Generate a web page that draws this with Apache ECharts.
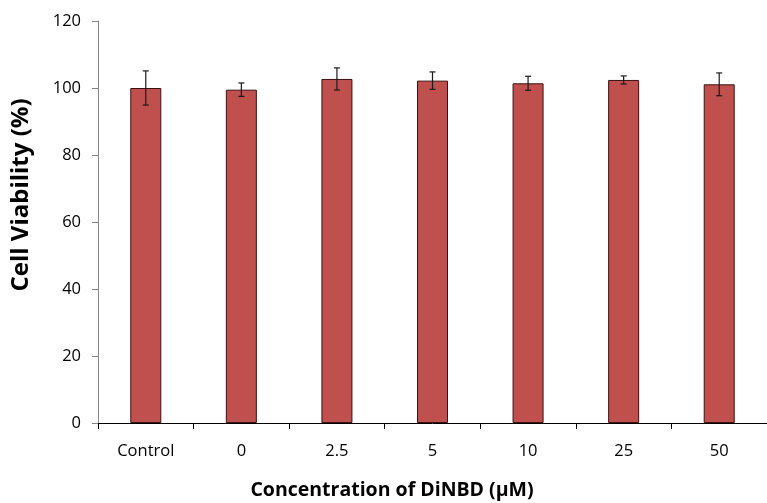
<!DOCTYPE html>
<html>
<head>
<meta charset="utf-8">
<script src="https://cdn.jsdelivr.net/npm/echarts@6/dist/echarts.min.js"></script>
<style>html,body{margin:0;padding:0;background:#fff}#c{width:767px;height:503px}</style>
</head>
<body>
<div id="c"></div>
<script>
var categories = ['Control', '0', '2.5', '5', '10', '25', '50'];
var viability = [100.0, 99.5, 102.7, 102.2, 101.4, 102.4, 101.1];
var errors = [5.1, 2.0, 3.3, 2.6, 2.1, 1.2, 3.4];
var yTicks = {min: 0, max: 120, interval: 20};
var xTitle = 'Concentration of DiNBD (μM)';
var yTitle = 'Cell Viability (%)';

var errData = categories.map(function (c, i) {
  return [i, viability[i] - errors[i], viability[i] + errors[i]];
});

var chart = echarts.init(document.getElementById('c'), null, {renderer: 'canvas'});
chart.setOption({
  animation: false,
  backgroundColor: '#ffffff',
  grid: {left: 98, top: 21, width: 677, bottom: 80, containLabel: false},
  xAxis: {
    type: 'category',
    data: categories,
    axisLine: {lineStyle: {color: '#000', width: 1}},
    axisTick: {show: true, length: 6, lineStyle: {color: '#000'}},
    axisLabel: {fontFamily: 'Open Sans', fontSize: 16.5, color: '#000', margin: 20}
  },
  yAxis: {
    type: 'value',
    min: yTicks.min, max: yTicks.max, interval: yTicks.interval,
    splitLine: {show: false},
    axisLine: {show: true, lineStyle: {color: '#868686', width: 1}},
    axisTick: {show: true, length: 6, lineStyle: {color: '#868686'}},
    axisLabel: {fontFamily: 'Open Sans', fontSize: 16.5, color: '#000', margin: 17}
  },
  graphic: [
    {type: 'text', x: 392, y: 490, style: {text: xTitle, font: 'bold 19.5px "Open Sans"', fill: '#000', textAlign: 'center', textVerticalAlign: 'middle'}},
    {type: 'text', rotation: Math.PI / 2, x: 9, y: 195, style: {text: yTitle, font: 'bold 24px "Open Sans"', fill: '#000', textAlign: 'center', textVerticalAlign: 'top'}}
  ],
  series: [
    {
      type: 'bar',
      data: viability,
      barWidth: 31,
      itemStyle: {color: '#C0504D', borderColor: '#3a1010', borderWidth: 1}
    },
    {
      type: 'custom',
      data: errData,
      z: 10,
      renderItem: function (params, api) {
        var x = api.value(0);
        var lo = api.coord([x, api.value(1)]);
        var hi = api.coord([x, api.value(2)]);
        var cw = 3;
        var st = {stroke: '#1a1a1a', lineWidth: 1.2};
        return {
          type: 'group',
          children: [
            {type: 'line', shape: {x1: hi[0], y1: hi[1], x2: lo[0], y2: lo[1]}, style: st},
            {type: 'line', shape: {x1: hi[0] - cw, y1: hi[1], x2: hi[0] + cw, y2: hi[1]}, style: st},
            {type: 'line', shape: {x1: lo[0] - cw, y1: lo[1], x2: lo[0] + cw, y2: lo[1]}, style: st}
          ]
        };
      }
    }
  ]
});
</script>
</body>
</html>
